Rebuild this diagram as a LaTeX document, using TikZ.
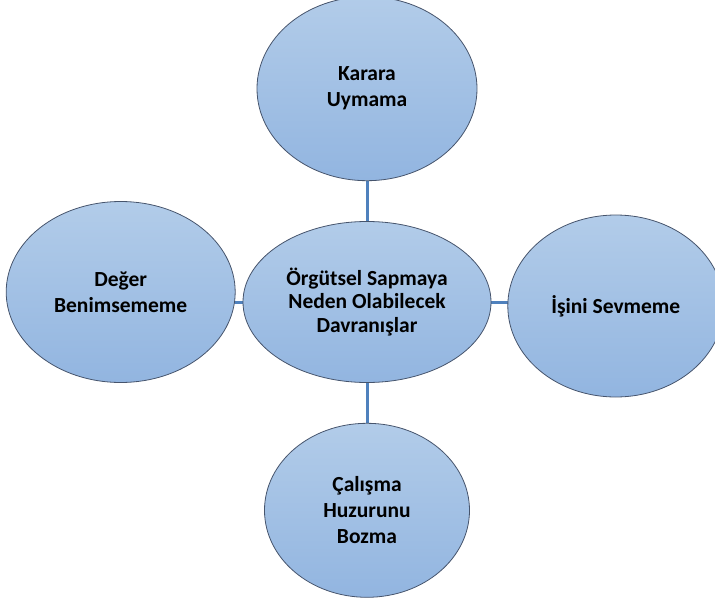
\documentclass[tikz,border=0pt]{standalone}
\usepackage{fontspec}
\setmainfont{Carlito}
\usepackage{tikz}
\usetikzlibrary{shapes.geometric,positioning,backgrounds}

\definecolor{bubbletop}{RGB}{178,204,233}
\definecolor{bubblebot}{RGB}{146,181,224}
\definecolor{bubbleline}{RGB}{70,84,108}
\definecolor{linkblue}{RGB}{79,129,189}

\begin{document}
\begin{tikzpicture}[x=1pt, y=1pt, node distance=40pt]
	\tikzstyle{bubble}=[ellipse, draw=bubbleline, line width=0.8pt, top color=bubbletop, bottom color=bubblebot, inner sep=0pt, align=center, text=black, font=\bfseries\fontsize{21.5}{26}\selectfont]
	\tikzstyle{link}=[draw=linkblue, line width=3pt]
	\useasboundingbox (0,0) rectangle (715,-610);
	\clip (0,0) rectangle (715,-610);
	\node[bubble, minimum width=248pt, minimum height=161pt, font=\bfseries\fontsize{21.5}{23.5}\selectfont] (M) at (367,-302) {Örgütsel Sapmaya\\Neden Olabilecek\\Davranışlar};
	\node[bubble, minimum width=220pt, minimum height=184pt] (T)[above=of M] {Karara\\Uymama};
	\node[bubble, minimum width=229pt, minimum height=181pt] (L)[left=7pt of M, yshift=10pt] {Değer\\Benimsememe};
	\node[bubble, minimum width=216pt, minimum height=182pt] (R)[right=16pt of M, yshift=-4pt] {İşini Sevmeme};
	\node[bubble, minimum width=205pt, minimum height=174pt] (B)[below=of M] {Çalışma\\Huzurunu\\Bozma};
	% connectors sit behind the bubbles
	\begin{scope}[on background layer]
	\path[link]
	(T.south) -- (M.north)
	(M.south) -- (B.north)
	(M.center) -- (L.center |- M.center)
	(M.center) -- (R.center |- M.center);
	\end{scope}
\end{tikzpicture}
\end{document}
